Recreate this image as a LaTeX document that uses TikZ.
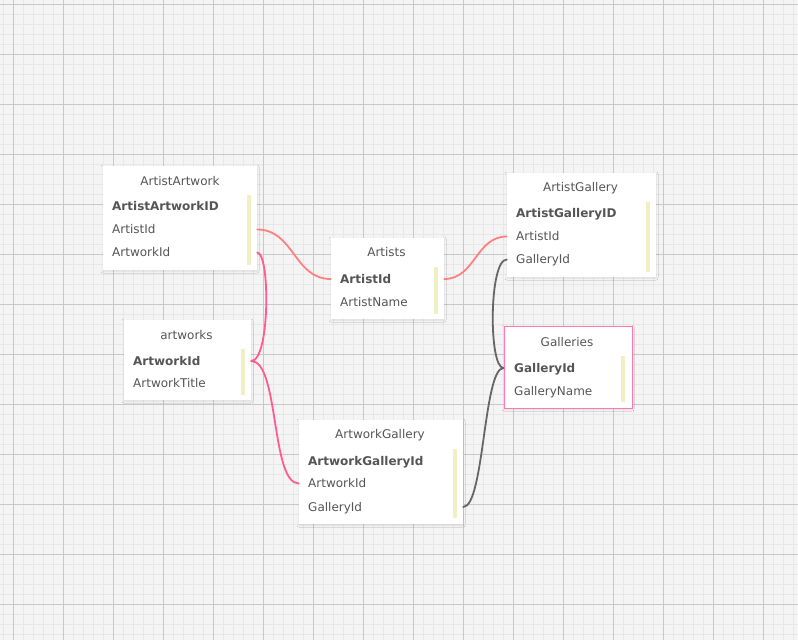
\documentclass[tikz,border=0pt]{standalone}
\usepackage{fontspec}
\setmainfont{DejaVu Sans}
\usetikzlibrary{shadows.blur}
\definecolor{bgc}{HTML}{F4F4F4}
\definecolor{minorc}{HTML}{E7E7E7}
\definecolor{majorc}{HTML}{C8C8C8}
\definecolor{txtc}{HTML}{555555}
\definecolor{barc}{HTML}{F3EFC5}
\definecolor{salmonc}{HTML}{FF8080}
\definecolor{pinkc}{HTML}{FF5C8E}
\definecolor{grayc}{HTML}{666666}
\definecolor{galc}{HTML}{FF78AE}
\tikzset{
  minorline/.style={draw=minorc,line width=0.7pt},
  majorline/.style={draw=majorc,line width=0.8pt},
  tbl/.style={draw=none,fill=white,inner sep=0pt,rectangle,
    blur shadow={shadow blur steps=8,shadow xshift=0pt,shadow yshift=-1pt,shadow opacity=10,shadow blur radius=2pt}},
  tblpink/.style={tbl,draw=galc,line width=1pt},
  ttl/.style={inner sep=0pt,text=txtc,font=\fontsize{12}{14}\selectfont,anchor=base},
  field/.style={inner sep=0pt,text=txtc,font=\fontsize{12}{14}\selectfont,anchor=west,text height=8.8pt,text depth=0pt},
  keyfield/.style={field,font=\fontsize{12}{14}\selectfont\bfseries},
  ybar/.style={fill=barc,draw=none},
  rel/.style={line width=1.8pt,line cap=round},
  relsalmon/.style={rel,draw=salmonc},
  relpink/.style={rel,draw=pinkc},
  relgray/.style={rel,draw=grayc}
}
\begin{document}
\begin{tikzpicture}[x=1pt,y=-1pt]
\useasboundingbox (0,0) rectangle (798,640);
\fill[bgc] (0,0) rectangle (798,640);
\foreach \x in {3,13,...,798} \draw[minorline] (\x,0) -- (\x,640);
\foreach \y in {4,14,...,640} \draw[minorline] (0,\y) -- (798,\y);
\foreach \x in {13,63,...,798} \draw[majorline] (\x,0) -- (\x,640);
\foreach \y in {4,54,...,640} \draw[majorline] (0,\y) -- (798,\y);

% ArtistArtwork
\node[tbl,minimum width=154pt,minimum height=104pt] (aa) at (180,218) {};
\fill[ybar] (247,195) rectangle (251,265);
\node[ttl] (aaT) at (180,185.4) {ArtistArtwork};
\node[keyfield] (aaID) at (112,206) {ArtistArtworkID};
\node[field] (aaArtist) at (112,229.5) {ArtistId};
\node[field] (aaArtwork) at (112,252.5) {ArtworkId};

% Artists
\node[tbl,minimum width=113pt,minimum height=81pt] (ar) at (387.5,278.5) {};
\fill[ybar] (434,267) rectangle (438,314);
\node[ttl] (arT) at (386.5,256.4) {Artists};
\node[keyfield] (arID) at (340,279) {ArtistId};
\node[field] (arName) at (340,302) {ArtistName};

% ArtistGallery
\node[tbl,minimum width=149pt,minimum height=104pt] (ag) at (581.5,225) {};
\fill[ybar] (646,202) rectangle (650,272);
\node[ttl] (agT) at (580.5,191.4) {ArtistGallery};
\node[keyfield] (agID) at (516,213) {ArtistGalleryID};
\node[field] (agArtist) at (516,236.5) {ArtistId};
\node[field] (agGallery) at (516,259.5) {GalleryId};

% Galleries
\node[tblpink,minimum width=128pt,minimum height=82pt] (ga) at (568,367) {};
\fill[ybar] (621,356) rectangle (625,402);
\node[ttl] (gaT) at (567,346.4) {Galleries};
\node[keyfield] (gaID) at (514,368) {GalleryId};
\node[field] (gaName) at (514,391) {GalleryName};

% artworks
\node[tbl,minimum width=127pt,minimum height=80pt] (aw) at (187.5,360) {};
\fill[ybar] (241,349) rectangle (245,395);
\node[ttl] (awT) at (186.5,339.4) {artworks};
\node[keyfield] (awID) at (133,361) {ArtworkId};
\node[field] (awTitle) at (133,383) {ArtworkTitle};

% ArtworkGallery
\node[tbl,minimum width=164pt,minimum height=104pt] (awg) at (381,472) {};
\fill[ybar] (453,449) rectangle (457,518);
\node[ttl] (awgT) at (380,438.4) {ArtworkGallery};
\node[keyfield] (awgID) at (308,461) {ArtworkGalleryId};
\node[field] (awgArtwork) at (308,483.5) {ArtworkId};
\node[field] (awgGallery) at (308,507) {GalleryId};

% relations
\draw[relsalmon] (aa.east |- aaArtist) .. controls +(37,0) and +(-37,0) .. (ar.west |- arID);
\draw[relsalmon] (ar.east |- arID) .. controls +(31,0) and +(-31,0) .. (ag.west |- agArtist);
\draw[relpink] (aa.east |- aaArtwork) .. controls +(13,0) and +(19,0) .. (aw.east |- awID);
\draw[relpink] (aw.east |- awID) .. controls +(28,0) and +(-28,0) .. (awg.west |- awgArtwork);
\draw[relgray] (ag.west |- agGallery) .. controls +(-18,0) and +(-15,0) .. (ga.west |- gaID);
\draw[relgray] (awg.east |- awgGallery) .. controls +(21,0) and +(-20,0) .. (ga.west |- gaID);
\end{tikzpicture}
\end{document}
